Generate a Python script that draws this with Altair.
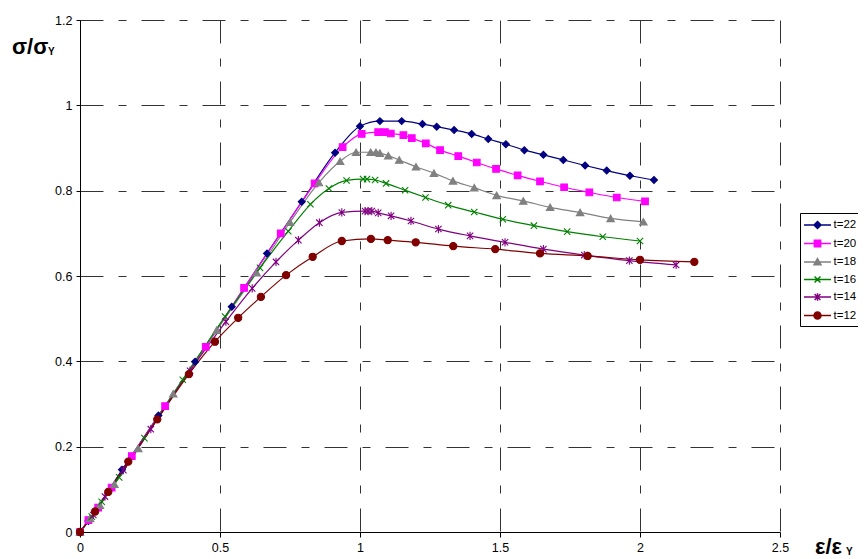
import altair as alt
import pandas as pd

labels = ["t=22", "t=20", "t=18", "t=16", "t=14", "t=12"]
colors = ["#000080", "#FF00FF", "#808080", "#008000", "#800080", "#800000"]

t22_x = [0, 0.03, 0.15, 0.28, 0.411, 0.542, 0.668, 0.792, 0.911, 1.0, 1.071, 1.149, 1.223, 1.274, 1.336,
         1.399, 1.458, 1.521, 1.587, 1.655, 1.726, 1.804, 1.881, 1.964, 2.05]
t22_y = [0, 0.026, 0.146, 0.273, 0.399, 0.528, 0.653, 0.774, 0.889, 0.951, 0.963, 0.963, 0.956, 0.950, 0.942,
         0.933, 0.921, 0.909, 0.895, 0.884, 0.872, 0.859, 0.847, 0.835, 0.825]

t20_x = [0, 0.030, 0.065, 0.113, 0.185, 0.304, 0.449, 0.586, 0.717, 0.838, 0.938, 1.006, 1.065, 1.089, 1.110,
         1.155, 1.185, 1.235, 1.286, 1.351, 1.417, 1.486, 1.563, 1.643, 1.729, 1.819, 1.917, 2.018]
t20_y = [0, 0.028, 0.057, 0.104, 0.178, 0.295, 0.434, 0.572, 0.700, 0.817, 0.902, 0.933, 0.937, 0.937, 0.934,
         0.930, 0.923, 0.911, 0.895, 0.881, 0.866, 0.851, 0.836, 0.822, 0.808, 0.796, 0.784, 0.775]

t18_x = [0, 0.036, 0.071, 0.123, 0.208, 0.333, 0.488, 0.631, 0.750, 0.853, 0.929, 0.986, 1.038, 1.057, 1.071,
         1.101, 1.140, 1.200, 1.264, 1.332, 1.408, 1.488, 1.583, 1.679, 1.786, 1.895, 2.012]
t18_y = [0, 0.032, 0.063, 0.112, 0.196, 0.324, 0.473, 0.608, 0.726, 0.819, 0.869, 0.890, 0.890, 0.890, 0.888,
         0.882, 0.872, 0.856, 0.841, 0.823, 0.807, 0.789, 0.776, 0.761, 0.749, 0.735, 0.727]

t16_x = [0, 0.042, 0.0775, 0.140, 0.230, 0.367, 0.518, 0.643, 0.744, 0.823, 0.889, 0.952, 1.011, 1.025, 1.054,
         1.093, 1.161, 1.234, 1.315, 1.408, 1.510, 1.621, 1.740, 1.867, 2.0]
t16_y = [0, 0.036, 0.071, 0.128, 0.220, 0.357, 0.505, 0.619, 0.705, 0.768, 0.805, 0.824, 0.827, 0.827, 0.825,
         0.817, 0.801, 0.784, 0.766, 0.750, 0.733, 0.718, 0.704, 0.692, 0.682]

t14_x = [0, 0.0475, 0.089, 0.155, 0.253, 0.393, 0.521, 0.615, 0.700, 0.780, 0.855, 0.935, 1.018, 1.029, 1.042,
         1.065, 1.111, 1.182, 1.280, 1.393, 1.518, 1.655, 1.801, 1.962, 2.129]
t14_y = [0, 0.040, 0.083, 0.145, 0.241, 0.378, 0.493, 0.571, 0.633, 0.684, 0.725, 0.749, 0.752, 0.752, 0.752,
         0.748, 0.741, 0.729, 0.710, 0.694, 0.679, 0.663, 0.649, 0.636, 0.626]

t12_x = [0, 0.054, 0.101, 0.1725, 0.276, 0.389, 0.482, 0.565, 0.646, 0.736, 0.831, 0.935, 1.039, 1.099, 1.199,
         1.333, 1.483, 1.643, 1.813, 2.0, 2.194]
t12_y = [0, 0.048, 0.094, 0.165, 0.264, 0.370, 0.446, 0.502, 0.551, 0.602, 0.645, 0.682, 0.687, 0.684, 0.679,
         0.670, 0.663, 0.653, 0.647, 0.638, 0.633]

x_ticks = [0, 0.5, 1, 1.5, 2, 2.5]
y_ticks = [0, 0.2, 0.4, 0.6, 0.8, 1.0, 1.2]

all_x = [t22_x, t20_x, t18_x, t16_x, t14_x, t12_x]
all_y = [t22_y, t20_y, t18_y, t16_y, t14_y, t12_y]

rows = []
for lab, xs, ys in zip(labels, all_x, all_y):
    for i, (a, b) in enumerate(zip(xs, ys)):
        rows.append({"t": lab, "x": a, "y": b, "i": i})
df = pd.DataFrame(rows)

FONT = "Liberation Sans"

# marker shapes for data points
X_PATH = "M-1,-1L1,1M-1,1L1,-1"
STAR_PATH = "M-1,-1L1,1M-1,1L1,-1M0,-1.3L0,1.3"
markers = [
    ("diamond", True, 48),
    ("square", True, 44),
    ("triangle-up", True, 56),
    (X_PATH, False, 40),
    (STAR_PATH, False, 40),
    ("circle", True, 52),
]

# legend symbols: line + marker
LL = "M-1.93,0L1.93,0"
legend_paths = [
    LL + "M0,-0.5L0.5,0L0,0.5L-0.5,0Z",
    LL + "M-0.45,-0.45L0.45,-0.45L0.45,0.45L-0.45,0.45Z",
    LL + "M0,-0.5L0.5,0.4L-0.5,0.4Z",
    LL + "M-0.42,-0.42L0.42,0.42M-0.42,0.42L0.42,-0.42",
    LL + "M-0.42,-0.42L0.42,0.42M-0.42,0.42L0.42,-0.42M0,-0.55L0,0.55",
    LL + "M0.5,0A0.5,0.5,0,1,1,-0.5,0A0.5,0.5,0,1,1,0.5,0Z",
]

x_enc = alt.X("x:Q", scale=alt.Scale(domain=[0, 2.5], nice=False, zero=False),
              axis=alt.Axis(values=x_ticks, title=None, grid=True, tickSize=5, format="~g",
                            labelPadding=4, labelFontSize=12.5, labelFont=FONT,
                            labelColor="#000", labelFlush=False))
y_enc = alt.Y("y:Q", scale=alt.Scale(domain=[0, 1.2], nice=False),
              axis=alt.Axis(values=y_ticks, title=None, grid=True, tickSize=4, format="~g",
                            labelPadding=4, labelFontSize=12.5, labelFont=FONT,
                            labelColor="#000", labelFlush=False))

color_scale = alt.Scale(domain=labels, range=colors)
stroke_enc = alt.Stroke("t:N", scale=color_scale)
fill_enc = alt.Fill("t:N", scale=color_scale)

base = alt.Chart(df)

lines = base.mark_line(interpolate="monotone", strokeWidth=1.2).encode(
    x=x_enc, y=y_enc, stroke=stroke_enc, order="i:Q",
)

layers = [lines]
for lab, (shp, filled, size) in zip(labels, markers):
    enc = dict(x=x_enc, y=y_enc, stroke=stroke_enc)
    if filled:
        enc["fill"] = fill_enc
    layers.append(
        base.transform_filter(alt.datum.t == lab)
        .mark_point(shape=shp, filled=filled, size=size, opacity=1, strokeWidth=1.1)
        .encode(**enc)
    )

# invisible layer that only carries the legend symbols (line + marker)
legend_layer = base.transform_filter(alt.datum.i == 0).mark_point(filled=True).encode(
    x=x_enc, y=y_enc,
    opacity=alt.value(0),
    fill=fill_enc,
    stroke=stroke_enc,
    shape=alt.Shape("t:N", scale=alt.Scale(domain=labels, range=legend_paths)),
)
layers.append(legend_layer)

one = alt.Chart(pd.DataFrame({"a": [0]}))
def txt(s, x, y, size):
    return one.mark_text(text=s, align="left", baseline="alphabetic", font=FONT,
                         fontWeight="bold", fontSize=size, color="#000").encode(
        x=alt.value(x), y=alt.value(y))

layers += [
    txt("σ/σ", -68, 34, 22),
    txt("Y", -32, 35, 10),
    txt("ε/ε", 735, 534, 22),
    txt("Y", 766, 535, 10),
]

chart = alt.layer(*layers).properties(
    width=700, height=512,
    background="#fff",
    autosize=alt.AutoSizeParams(type="none"),
    padding={"left": 72, "top": 12, "right": 78, "bottom": 27},
).configure_view(stroke=None).configure_axis(
    domainColor="#000", tickColor="#000", gridColor="#333", gridDash=[23, 15, 8, 15],
    gridWidth=1, domainWidth=1, gridOpacity=1,
).configure_legend(
    title=None, orient="none", legendX=720, legendY=193,
    symbolSize=196, symbolStrokeWidth=1.5, symbolOffset=5.5, symbolOpacity=1,
    labelOffset=8, labelFont=FONT, labelFontSize=11.5, labelColor="#000",
    padding=4, rowPadding=3.5, strokeColor="#000", fillColor="#fff",
    symbolFillColor="#000", symbolStrokeColor="#000",
)

chart.save("out.html", embed_options={"renderer": "svg", "actions": False})
